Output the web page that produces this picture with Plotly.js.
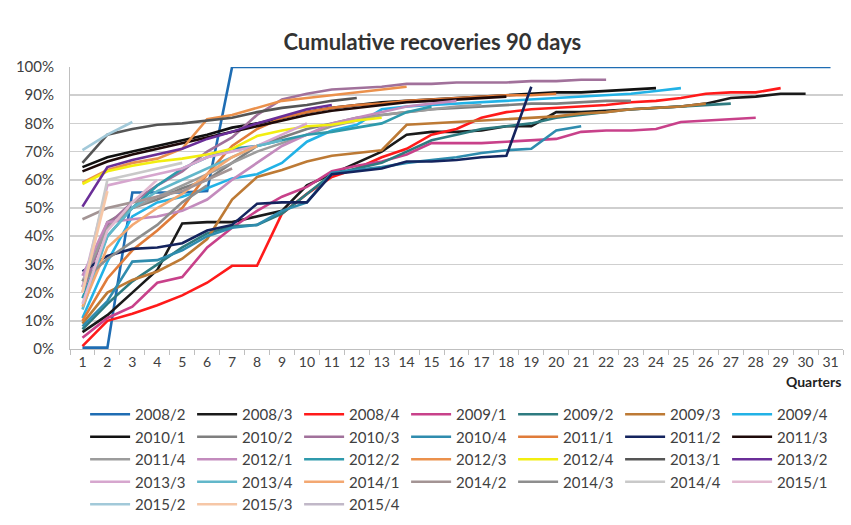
<!DOCTYPE html>
<html>
<head>
<meta charset="utf-8">
<script src="https://cdn.plot.ly/plotly-3.0.1.min.js"></script>
<style>html,body{margin:0;padding:0;background:#fff;}#chart{width:851px;height:525px;}</style>
</head>
<body>
<div id="chart"></div>
<script>
const quarters = Array.from({length: 31}, (_, i) => i + 1);
const tickLabels = quarters.map(String);
const seriesNames = ["2008/2","2008/3","2008/4","2009/1","2009/2","2009/3","2009/4","2010/1","2010/2","2010/3","2010/4","2011/1","2011/2","2011/3","2011/4","2012/1","2012/2","2012/3","2012/4","2013/1","2013/2","2013/3","2013/4","2014/1","2014/2","2014/3","2014/4","2015/1","2015/2","2015/3","2015/4"];
const seriesColors = ["#1f6db3","#1a1a1a","#ff1a1a","#c8418a","#2e7b80","#bd7a35","#22b2e6","#111111","#7f7f7f","#a1719b","#2f8cae","#e07c3a","#14245e","#1e0a0a","#9c9c9c","#c38bbd","#2f9aac","#eb914c","#f2ee10","#555555","#6a2e98","#d6a6ce","#62b7ca","#f3a872","#a39494","#8e8e8e","#c9c9c9","#e2b9d0","#a2c9d9","#f6c7a7","#c1b8c8"];

const s2008_2 = [0.5,0.5,55.5,55.5,55.5,56,100,100,100,100,100,100,100,100,100,100,100,100,100,100,100,100,100,100,100,100,100,100,100,100,100];
const s2008_3 = [6,12,20,28,44.5,45,45,47,49,58,62,66,70,76,77,77,77.5,79,79,84,84,84.5,85,85.5,86,87,89,89.5,90.5,90.5];
const s2008_4 = [1,10,12.5,15.5,19,23.5,29.5,29.5,48,55,61,64,68,71,76,78,82,84,85,85.5,86,86.5,87.5,88,89,90.5,91,91,92.5];
const s2009_1 = [4,11,15,23.5,25.5,36,43,49,54,57.5,63,65,66.5,69,73,73,73,73.5,74,74.5,77,77.5,77.5,78,80.5,81,81.5,82];
const s2009_2 = [7,16,24,30,36,41,43.5,44,48,55,62,64,66,70,74,76,78,79,80,82,83,84,85,85.5,86,86.5,87];
const s2009_3 = [9,20,24.5,27.5,32,39,53,61,63.5,66.5,68.5,69.5,70.5,79.5,80,80.5,81,81.5,82,82.5,83.5,84,85,85.5,86,87];
const s2009_4 = [11,31,47,52,54,57,60.5,62,66,73.5,77.5,79.5,85,86,86.5,87,87.5,88,88.5,89,89.5,90,90.5,91.5,92.5];
const s2010_1 = [64.5,68,70,72,74,76,78.5,80,82,84,85.5,86.5,87.5,88,88.5,89,89.5,90,90.5,91,91,91.5,92,92.5];
const s2010_2 = [22,45,50,53,57,60,66,72,75,78,80,82,83,84,85,85.5,86,86.5,87,87,87.5,88,88];
const s2010_3 = [20,44,52,58,63,70,75,83,88.5,90.5,92,92.5,93,94,94,94.5,94.5,94.5,95,95,95.5,95.5];
const s2010_4 = [8,17,31,31.5,35,40,43,44,49,52,62.5,63.5,64.5,66,67,68,69.5,70.5,71,77.5,79];
const s2011_1 = [10,25,35,42,50,62,72,78,82,84,85.5,86.5,87,88,88.5,89,89.5,90,90,90.5];
const s2011_2 = [27.5,33,35.5,36,37.5,42,44,51.5,52,52,62,63,64,66.5,66.5,67,68,68.5,93];
const s2011_3 = [63,66.5,69,71,73,75,77,79,81,83,84.5,85.5,86.5,87.5,88,88.5,89,89.5];
const s2011_4 = [24,43,50,54,58,62,66,70,73,76,79,81,83,84,85,86,86.5];
const s2012_1 = [26,45,46,47,49,53,60,66,72,76,80,82,84,86,87,88];
const s2012_2 = [18,40,50,58,64,68,71,72,74,76,77,78.5,80,84,86];
const s2012_3 = [59,63.5,66,67.5,71,81.5,83,85.5,88,89,90,91,92,93];
const s2012_4 = [58.5,63,65,66.5,67.5,69,71,75.5,77.5,79,79.5,81,82];
const s2013_1 = [66,76,78,79.5,80,81,82,84,85.5,86.5,88,89];
const s2013_2 = [50.5,64.5,67,69,71,74.5,77,80,82.5,85,86.5];
const s2013_3 = [22,58,60,62,64,68,70,72,76,80];
const s2013_4 = [14,40,50,56,60,64,68,72,74];
const s2014_1 = [15,36,44,50,55,62,68,72];
const s2014_2 = [46,50,52,54,56,60,64];
const s2014_3 = [24,32,38,44,52,58];
const s2014_4 = [20,60,62,64,66];
const s2015_1 = [16,42,52,60];
const s2015_2 = [70.5,76,80.5];
const s2015_3 = [20,56];
const s2015_4 = [25];

const seriesValues = [s2008_2,s2008_3,s2008_4,s2009_1,s2009_2,s2009_3,s2009_4,s2010_1,s2010_2,s2010_3,s2010_4,s2011_1,s2011_2,s2011_3,s2011_4,s2012_1,s2012_2,s2012_3,s2012_4,s2013_1,s2013_2,s2013_3,s2013_4,s2014_1,s2014_2,s2014_3,s2014_4,s2015_1,s2015_2,s2015_3,s2015_4];

const traces = seriesNames.map((name, i) => ({
  type: 'scatter',
  mode: 'lines',
  name: name,
  x: quarters.slice(0, seriesValues[i].length),
  y: seriesValues[i].map(v => v / 100),
  line: {color: seriesColors[i], width: 2.6},
  hoverinfo: 'x+y+name'
}));

const layout = {
  width: 851, height: 525,
  paper_bgcolor: '#ffffff', plot_bgcolor: '#ffffff',
  font: {family: 'Lato, "Open Sans", sans-serif', color: '#404040', size: 14},
  margin: {l: 70, r: 8, t: 67, b: 176, autoexpand: false},
  title: {text: '<b>Cumulative recoveries 90 days</b>', x: 0.508, xref: 'container', y: 0.92, yref: 'container', yanchor: 'middle', font: {size: 22, color: '#333333', family: 'Lato, "Open Sans", sans-serif'}},
  xaxis: {
    range: [0.5, 31.5], tickmode: 'array', tickvals: quarters, ticktext: tickLabels,
    showgrid: false, zeroline: false, showline: true, linecolor: '#bfbfbf', linewidth: 1,
    ticks: '', tickfont: {size: 14, color: '#404040'},
    minor: {tickmode: 'linear', tick0: 0.5, dtick: 1, ticks: 'outside', ticklen: 5, tickcolor: '#bfbfbf', showgrid: false}
  },
  yaxis: {
    range: [0, 1], tickmode: 'linear', tick0: 0, dtick: 0.1, tickformat: '.0%',
    showgrid: true, gridcolor: '#cfcfcf', gridwidth: 1.5, zeroline: false,
    showline: true, linecolor: '#bfbfbf', ticks: '', ticklabelstandoff: 12,
    tickfont: {size: 15, color: '#404040'}
  },
  showlegend: true,
  legend: {
    orientation: 'h', xref: 'container', yref: 'container',
    x: 0.1, xanchor: 'left', y: 1 - 398 / 525, yanchor: 'top',
    entrywidth: 52, entrywidthmode: 'pixels', itemwidth: 40,
    font: {size: 15, color: '#404040'}, tracegroupgap: 0, traceorder: 'normal',
    bgcolor: 'rgba(0,0,0,0)'
  },
  annotations: [{
    text: '<b>Quarters</b>', xref: 'paper', yref: 'paper', x: 1.0, y: -32 / 282,
    xanchor: 'right', yanchor: 'middle', showarrow: false,
    font: {size: 14, color: '#222222'}
  }]
};

Plotly.newPlot('chart', traces, layout, {displayModeBar: false, staticPlot: true});
</script>
</body>
</html>
